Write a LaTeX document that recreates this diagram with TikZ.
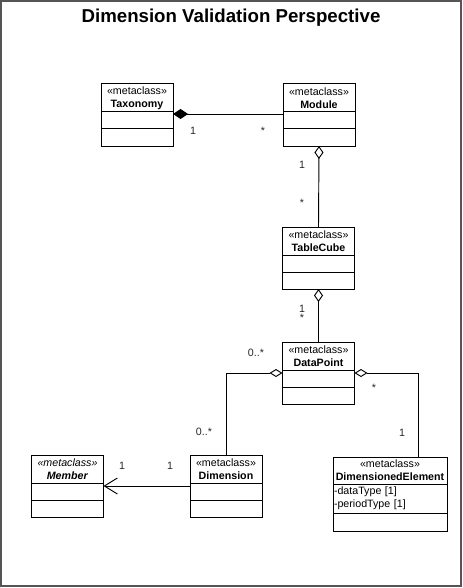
\documentclass[tikz,border=0pt]{standalone}
\usepackage{fontspec}
\setmainfont{Liberation Sans}
\usetikzlibrary{positioning,arrows.meta}
\definecolor{framegray}{RGB}{85,85,85}

\begin{document}
\begin{tikzpicture}[x=0.75pt,y=-0.75pt,every node/.style={font=\fontsize{8}{9.5}\selectfont},
    head/.style={draw,line width=.75pt,outer sep=0pt,minimum width=54pt,minimum height=21pt,inner sep=1pt,align=center},
    comp/.style={draw,line width=.75pt,outer sep=0pt,minimum width=54pt,minimum height=12.75pt,inner sep=0pt},
    mult/.style={text=black!85,inner sep=0pt},
    link/.style={line width=.7pt}]
    \useasboundingbox (0,0) rectangle (463,588);
    \draw[framegray,line width=1.5pt] (0.75,1) rectangle (461,586);
    \node[font=\fontsize{14}{16}\selectfont\bfseries] (title) at (231,17.5) {Dimension Validation Perspective};
    % classes
    \node[head] (tax) at (137,98) {«metaclass»\\\textbf{Taxonomy}};
    \node[comp,below=0pt of tax] (tax2) {};
    \node[comp,below=0pt of tax2] (tax3) {};
    \node[head] (mod) at (319,98) {«metaclass»\\\textbf{Module}};
    \node[comp,below=0pt of mod] (mod2) {};
    \node[comp,below=0pt of mod2] (mod3) {};
    \node[head] (tc) at (318.5,241) {«metaclass»\\\textbf{TableCube}};
    \node[comp,below=0pt of tc] (tc2) {};
    \node[comp,below=0pt of tc2] (tc3) {};
    \node[head] (dp) at (318.5,356) {«metaclass»\\\textbf{DataPoint}};
    \node[comp,below=0pt of dp] (dp2) {};
    \node[comp,below=0pt of dp2] (dp3) {};
    \node[head] (dim) at (226,469) {«metaclass»\\\textbf{Dimension}};
    \node[comp,below=0pt of dim] (dim2) {};
    \node[comp,below=0pt of dim2] (dim3) {};
    \node[head] (mem) at (67.5,469) {\textit{«metaclass»}\\\textbf{\textit{Member}}};
    \node[comp,below=0pt of mem] (mem2) {};
    \node[comp,below=0pt of mem2] (mem3) {};
    \node[head,minimum width=85.5pt,minimum height=20.25pt] (de) at (390,470.5) {«metaclass»\\\textbf{DimensionedElement}};
    \node[comp,minimum width=85.5pt,minimum height=21.75pt,text width=84pt,inner sep=.75pt,align=left,below=0pt of de] (de2) {-dataType [1]\\-periodType [1]};
    \node[comp,minimum width=85.5pt,minimum height=13.5pt,below=0pt of de2] (de3) {};
    % associations
    \draw[link,{Diamond[length=11.25pt,width=7.5pt]}-] ([yshift=-1.5pt]tax2.north east) -- ([yshift=-1.5pt]mod2.north west);
    \draw[link,{Diamond[fill=white,length=9.75pt,width=6.75pt]}-] (mod3.south) -- (tc.north);
    \draw[link,{Diamond[fill=white,length=9.75pt,width=6.75pt]}-] (tc3.south) -- (dp.north);
    \draw[link,{Diamond[fill=white,length=9.75pt,width=6pt]}-] ([yshift=-2.25pt]dp2.north west) -| (dim.north);
    \draw[link,{Diamond[fill=white,length=9.75pt,width=6pt]}-] ([yshift=-2.25pt]dp2.north east) -| ([xshift=21pt]de.north);
    \draw[link,-{Straight Barb[length=9.75pt,width=12pt]}] ([yshift=-2.25pt]dim2.north west) -- ([yshift=-2.25pt]mem2.north east);
    % multiplicities
    \node[mult] (taxone) at (193,131) {1};
    \node[mult] (modmany) at (263,131) {*};
    \node[mult] (modone) at (302,165) {1};
    \node[mult] (tcmany) at (302,203) {*};
    \node[mult] (tcone) at (302,309) {1};
    \node[mult] (dpmany) at (302,318) {*};
    \node[mult] (dimmanya) at (256,353) {0..*};
    \node[mult] (dimmanyb) at (204,432) {0..*};
    \node[mult] (demany) at (374,388) {*};
    \node[mult] (deone) at (402,433) {1};
    \node[mult] (memone) at (122,466) {1};
    \node[mult] (dimone) at (170,466) {1};
\end{tikzpicture}
\end{document}
